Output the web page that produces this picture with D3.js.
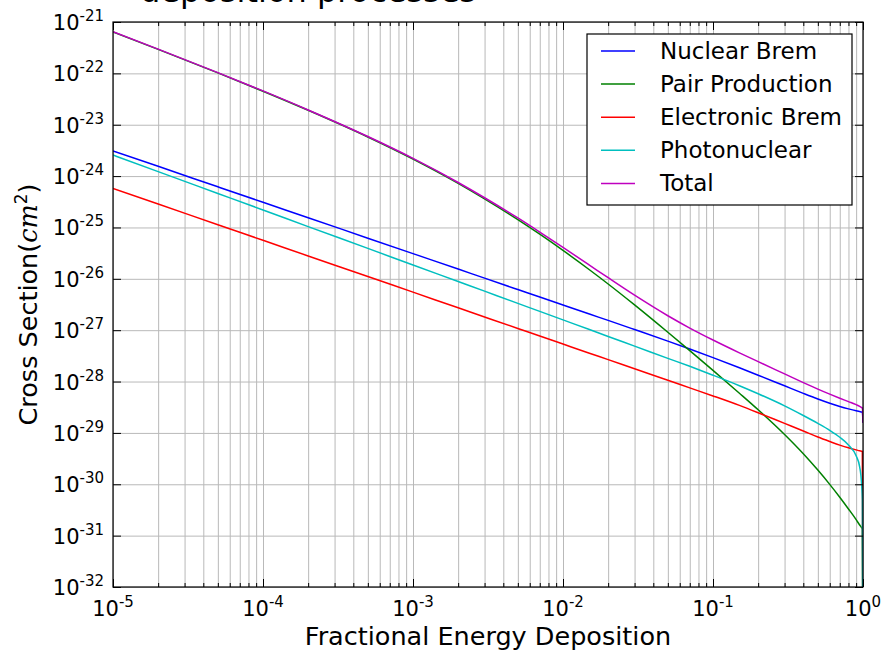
<!DOCTYPE html>
<html>
<head>
<meta charset="utf-8">
<script src="https://cdn.jsdelivr.net/npm/d3@7"></script>
<style>
  html, body { margin: 0; padding: 0; background: #fff; }
  svg { display: block; font-family: "DejaVu Sans", sans-serif; }
</style>
</head>
<body>
<svg id="chart" width="885" height="652"></svg>
<script>
// Fractional energy deposition (x) at which each cross section is sampled
const energyFraction = [1e-5, 2e-5, 5e-5, 1e-4, 2e-4, 5e-4, 1e-3, 2e-3, 3e-3, 5e-3, 7e-3,
  1e-2, 1.5e-2, 2e-2, 3e-2, 5e-2, 7e-2, 0.1, 0.15, 0.2, 0.3, 0.4, 0.5, 0.6, 0.7, 0.8,
  0.9, 0.95, 0.98, 0.99, 1.0];

// Differential cross sections in cm^2
const nuclearBrem = [3.09e-24, 1.55e-24, 6.18e-25, 3.09e-25, 1.55e-25, 6.18e-26, 3.09e-26,
  1.55e-26, 1.03e-26, 6.18e-27, 4.42e-27, 3.09e-27, 2.06e-27, 1.55e-27, 1.03e-27, 6.12e-28,
  4.30e-28, 2.92e-28, 1.85e-28, 1.33e-28, 8.26e-29, 5.89e-29, 4.58e-29, 3.79e-29, 3.28e-29,
  2.94e-29, 2.70e-29, 2.61e-29, 2.56e-29, 2.55e-29, 1.58e-29];

const pairProduction = [6.40e-22, 2.93e-22, 1.02e-22, 4.49e-23, 1.91e-23, 5.78e-24, 2.15e-24,
  7.24e-25, 3.61e-25, 1.42e-25, 7.38e-26, 3.57e-26, 1.50e-26, 7.92e-27, 3.10e-27, 9.10e-28,
  4.00e-28, 1.65e-28, 5.92e-29, 2.82e-29, 9.31e-30, 3.93e-30, 1.89e-30, 9.95e-31, 5.60e-31,
  3.31e-31, 2.05e-31, 1.61e-31, 1.42e-31, 1.36e-31, 0];

const electronicBrem = [5.75e-25, 2.86e-25, 1.13e-25, 5.62e-26, 2.79e-26, 1.11e-26, 5.50e-27,
  2.73e-27, 1.81e-27, 1.08e-27, 7.71e-28, 5.37e-28, 3.56e-28, 2.67e-28, 1.77e-28, 1.06e-28,
  7.53e-29, 5.25e-29, 3.43e-29, 2.47e-29, 1.53e-29, 1.09e-29, 8.32e-30, 6.81e-30, 5.79e-30,
  5.12e-30, 4.67e-30, 4.49e-30, 4.41e-30, 4.38e-30, 0];

const photonuclear = [2.57e-24, 1.22e-24, 4.59e-25, 2.19e-25, 1.04e-25, 3.91e-26, 1.86e-26,
  8.87e-27, 5.75e-27, 3.33e-27, 2.32e-27, 1.585e-27, 1.03e-27, 7.55e-28, 4.90e-28, 2.83e-28,
  1.98e-28, 1.33e-28, 8.30e-29, 5.79e-29, 3.36e-29, 2.18e-29, 1.53e-29, 1.12e-29, 8.22e-30,
  5.82e-30, 3.58e-30, 2.19e-30, 9.55e-31, 5.01e-31, 0];

const total = [6.46e-22, 2.96e-22, 1.032e-22, 4.55e-23, 1.94e-23, 5.89e-24, 2.21e-24,
  7.51e-25, 3.79e-25, 1.53e-25, 8.13e-26, 4.09e-26, 1.85e-26, 1.05e-26, 4.80e-27, 1.91e-27,
  1.10e-27, 6.43e-28, 3.62e-28, 2.44e-28, 1.41e-28, 9.55e-29, 7.13e-29, 5.69e-29, 4.74e-29,
  4.07e-29, 3.55e-29, 3.29e-29, 3.11e-29, 3.05e-29, 1.58e-29];

const seriesNames = ["Nuclear Brem", "Pair Production", "Electronic Brem", "Photonuclear", "Total"];
const seriesValues = [nuclearBrem, pairProduction, electronicBrem, photonuclear, total];

// Decade exponents used for tick labels
const xTickPowers = [-5, -4, -3, -2, -1, 0];
const yTickPowers = [-21, -22, -23, -24, -25, -26, -27, -28, -29, -30, -31, -32];

const titleText = "deposition processes";
const xLabel = "Fractional Energy Deposition";

// ---- styling ----
const colors = ["#0000ff", "#008000", "#ff0000", "#00bfbf", "#bf00bf"];
const plot = { left: 113, right: 863, top: 22, bottom: 587 };

const svg = d3.select("#chart");

const x = d3.scaleLog()
  .domain([Math.pow(10, d3.min(xTickPowers)), Math.pow(10, d3.max(xTickPowers))])
  .range([plot.left, plot.right]);
const y = d3.scaleLog()
  .domain([Math.pow(10, d3.min(yTickPowers)), Math.pow(10, d3.max(yTickPowers))])
  .range([plot.bottom, plot.top]);

const xMajor = xTickPowers.map(p => Math.pow(10, p));
const yMajor = yTickPowers.map(p => Math.pow(10, p));
const xMinor = [];
xTickPowers.slice(0, -1).forEach(p => {
  for (let k = 2; k <= 9; k++) xMinor.push(k * Math.pow(10, p));
});

const W = plot.right - plot.left, H = plot.bottom - plot.top;

// clip region for the curves
svg.append("defs").append("clipPath").attr("id", "plotClip")
  .append("rect").attr("x", plot.left).attr("y", plot.top).attr("width", W).attr("height", H);

// ---- grid ----
const grid = svg.append("g").attr("class", "grid");
grid.append("g").attr("transform", `translate(0,${plot.bottom})`)
  .call(d3.axisBottom(x).tickValues(xMajor.concat(xMinor)).tickSize(-H).tickFormat(""))
  .call(g => g.select(".domain").remove())
  .call(g => g.selectAll("line").attr("stroke", "#b9b9b9").attr("stroke-width", 1));
grid.append("g").attr("transform", `translate(${plot.left},0)`)
  .call(d3.axisLeft(y).tickValues(yMajor).tickSize(-W).tickFormat(""))
  .call(g => g.select(".domain").remove())
  .call(g => g.selectAll("line").attr("stroke", "#b9b9b9").attr("stroke-width", 1));

// ---- curves ----
const yFloor = y.domain()[0] / 100;
const line = d3.line()
  .x(d => x(d[0]))
  .y(d => y(d[1] > 0 ? d[1] : yFloor))
  .curve(d3.curveMonotoneX);

const curves = svg.append("g").attr("clip-path", "url(#plotClip)");
seriesValues.forEach((vals, i) => {
  curves.append("path")
    .datum(energyFraction.map((e, j) => [e, vals[j]]))
    .attr("fill", "none")
    .attr("stroke", colors[i])
    .attr("stroke-width", 1.5)
    .attr("stroke-linejoin", "round")
    .attr("d", line);
});

// ---- inward ticks on all four sides ----
function styleTicks(g) {
  g.select(".domain").remove();
  g.selectAll("line").attr("stroke", "#000").attr("stroke-width", 1);
}
const majorLen = 8, minorLen = 4;
svg.append("g").attr("transform", `translate(0,${plot.bottom})`)
  .call(d3.axisBottom(x).tickValues(xMajor).tickSize(-majorLen).tickFormat("")).call(styleTicks);
svg.append("g").attr("transform", `translate(0,${plot.bottom})`)
  .call(d3.axisBottom(x).tickValues(xMinor).tickSize(-minorLen).tickFormat("")).call(styleTicks);
svg.append("g").attr("transform", `translate(0,${plot.top})`)
  .call(d3.axisTop(x).tickValues(xMajor).tickSize(-majorLen).tickFormat("")).call(styleTicks);
svg.append("g").attr("transform", `translate(0,${plot.top})`)
  .call(d3.axisTop(x).tickValues(xMinor).tickSize(-minorLen).tickFormat("")).call(styleTicks);
svg.append("g").attr("transform", `translate(${plot.left},0)`)
  .call(d3.axisLeft(y).tickValues(yMajor).tickSize(-majorLen).tickFormat("")).call(styleTicks);
svg.append("g").attr("transform", `translate(${plot.right},0)`)
  .call(d3.axisRight(y).tickValues(yMajor).tickSize(-majorLen).tickFormat("")).call(styleTicks);

// frame
svg.append("rect")
  .attr("x", plot.left).attr("y", plot.top).attr("width", W).attr("height", H)
  .attr("fill", "none").attr("stroke", "#000").attr("stroke-width", 1.2);

// ---- tick labels (10 with superscript exponent) ----
function powerLabel(sel, p) {
  sel.append("tspan").attr("font-size", 21).text("10");
  sel.append("tspan").attr("font-size", 15).attr("dy", -9).text(String(p));
}
xTickPowers.forEach(p => {
  const t = svg.append("text")
    .attr("x", x(Math.pow(10, p))).attr("y", 616)
    .attr("text-anchor", "middle").attr("fill", "#000");
  powerLabel(t, p);
});
yTickPowers.forEach(p => {
  const t = svg.append("text")
    .attr("x", 104).attr("y", y(Math.pow(10, p)) + 8)
    .attr("text-anchor", "end").attr("fill", "#000");
  powerLabel(t, p);
});

// ---- axis labels ----
svg.append("text")
  .attr("x", (plot.left + plot.right) / 2).attr("y", 645)
  .attr("text-anchor", "middle").attr("font-size", 25.5).attr("fill", "#000")
  .text(xLabel);

const yl = svg.append("text")
  .attr("transform", `translate(37,${(plot.top + plot.bottom) / 2}) rotate(-90)`)
  .attr("text-anchor", "middle").attr("font-size", 25.5).attr("fill", "#000");
yl.append("tspan").text("Cross Section(");
yl.append("tspan").attr("font-family", "'DejaVu Serif', serif").attr("font-style", "italic").text("cm");
yl.append("tspan").attr("font-size", 17).attr("dy", -10).text("2");
yl.append("tspan").attr("dy", 10).text(")");

// ---- title (second line of the heading, running off the top edge) ----
svg.append("text")
  .attr("x", 140).attr("y", 2)
  .attr("font-size", 32).attr("fill", "#000")
  .text(titleText);

// ---- legend ----
const legend = svg.append("g");
legend.append("rect")
  .attr("x", 587).attr("y", 34).attr("width", 265).attr("height", 171)
  .attr("fill", "#fff").attr("stroke", "#000").attr("stroke-width", 1.2);
seriesNames.forEach((name, i) => {
  const cy = 51 + i * 33.1;
  legend.append("line")
    .attr("x1", 601).attr("x2", 635).attr("y1", cy).attr("y2", cy)
    .attr("stroke", colors[i]).attr("stroke-width", 1.5);
  legend.append("text")
    .attr("x", 660).attr("y", cy + 8)
    .attr("font-size", 23).attr("fill", "#000")
    .text(name);
});
</script>
</body>
</html>
